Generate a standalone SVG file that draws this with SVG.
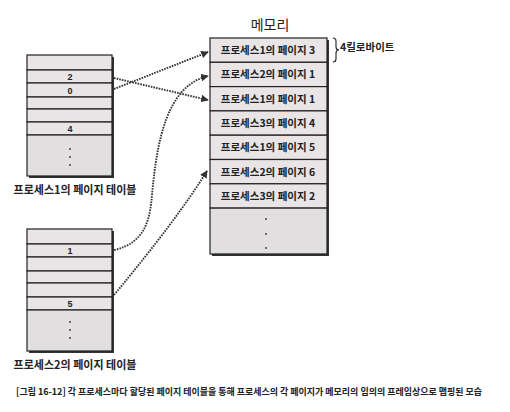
<svg xmlns="http://www.w3.org/2000/svg" width="510" height="412" viewBox="0 0 510 412">
<defs>
<style>
.t{font-family:"Noto Sans CJK KR","Noto Sans",sans-serif;fill:#222}
.n{font-family:"Liberation Sans",Arial,sans-serif;font-weight:bold;fill:#222;font-size:9px}
.b{font-weight:bold}
.row{fill:#e9e4e6;stroke:#222;stroke-width:1.2}
.dots{fill:#e2dfe1;stroke:#222;stroke-width:1.2}
.sh{fill:#333}
.con{fill:none;stroke:#333;stroke-width:1.9;stroke-dasharray:1.6 1.1}
.dot{fill:#333}
</style>
<marker id="ah" viewBox="0 0 10 10" refX="9" refY="5" markerWidth="4" markerHeight="4" orient="auto" markerUnits="strokeWidth">
<path d="M0,0 L10,5 L0,10 z" fill="#333"/>
</marker>
</defs>
<rect width="510" height="412" fill="#fff"/>

<g id="pt1">
<rect class="sh" x="29" y="57" width="85" height="121"/>
<rect class="row" x="27" y="55" width="85" height="15"/>
<rect class="row" x="27" y="70" width="85" height="13"/>
<rect class="row" x="27" y="83" width="85" height="14"/>
<rect class="row" x="27" y="97" width="85" height="12"/>
<rect class="row" x="27" y="109" width="85" height="13"/>
<rect class="row" x="27" y="122" width="85" height="13"/>
<rect class="dots" x="27" y="135" width="85" height="41"/>
<text class="n" x="70" y="80" text-anchor="middle">2</text>
<text class="n" x="70" y="93.5" text-anchor="middle">0</text>
<text class="n" x="70" y="131.5" text-anchor="middle">4</text>
<circle class="dot" cx="70" cy="149" r="0.9"/>
<circle class="dot" cx="70" cy="157" r="0.9"/>
<circle class="dot" cx="70" cy="165" r="0.9"/>
<text class="t b" x="75" y="194" font-size="11" text-anchor="middle">프로세스1의 페이지 테이블</text>
</g>

<g id="pt2">
<rect class="sh" x="29" y="231" width="85" height="122"/>
<rect class="row" x="27" y="229" width="85" height="15"/>
<rect class="row" x="27" y="244" width="85" height="13"/>
<rect class="row" x="27" y="257" width="85" height="14"/>
<rect class="row" x="27" y="271" width="85" height="12"/>
<rect class="row" x="27" y="283" width="85" height="14"/>
<rect class="row" x="27" y="297" width="85" height="13"/>
<rect class="dots" x="27" y="310" width="85" height="41"/>
<text class="n" x="70" y="254" text-anchor="middle">1</text>
<text class="n" x="70" y="307" text-anchor="middle">5</text>
<circle class="dot" cx="70" cy="322" r="0.9"/>
<circle class="dot" cx="70" cy="330" r="0.9"/>
<circle class="dot" cx="70" cy="338" r="0.9"/>
<text class="t b" x="75" y="369" font-size="11" text-anchor="middle">프로세스2의 페이지 테이블</text>
</g>

<g id="memory">
<text class="t" x="270" y="30" font-size="14" text-anchor="middle">메모리</text>
<rect class="sh" x="212" y="40" width="117" height="216"/>
<rect class="row" x="210" y="38" width="117" height="24.3"/>
<rect class="row" x="210" y="62.3" width="117" height="24.3"/>
<rect class="row" x="210" y="86.6" width="117" height="24.3"/>
<rect class="row" x="210" y="110.9" width="117" height="24.3"/>
<rect class="row" x="210" y="135.2" width="117" height="24.3"/>
<rect class="row" x="210" y="159.5" width="117" height="24.3"/>
<rect class="row" x="210" y="183.8" width="117" height="24.3"/>
<rect class="dots" x="210" y="208.1" width="117" height="45.9"/>
<g font-size="10.5" text-anchor="middle">
<text class="t b" x="268" y="54">프로세스1의 페이지 3</text>
<text class="t b" x="268" y="78.3">프로세스2의 페이지 1</text>
<text class="t b" x="268" y="102.6">프로세스1의 페이지 1</text>
<text class="t b" x="268" y="126.9">프로세스3의 페이지 4</text>
<text class="t b" x="268" y="151.2">프로세스1의 페이지 5</text>
<text class="t b" x="268" y="175.5">프로세스2의 페이지 6</text>
<text class="t b" x="268" y="199.8">프로세스3의 페이지 2</text>
</g>
<circle class="dot" cx="266" cy="219" r="0.9"/>
<circle class="dot" cx="266" cy="234" r="0.9"/>
<circle class="dot" cx="266" cy="248" r="0.9"/>
</g>

<g id="size">
<path d="M333,38 Q336,38 336,41 L336,47 Q336,50 339,50 Q336,50 336,53 L336,59 Q336,62 333,62" fill="none" stroke="#222" stroke-width="1.1"/>
<text class="t b" x="340" y="51" font-size="10.5">4킬로바이트</text>
</g>

<g id="connectors">
<path class="con" d="M114,78 L208,100" marker-end="url(#ah)"/>
<path class="con" d="M114,89 L208,52" marker-end="url(#ah)"/>
<path class="con" d="M114,250 C146,243 150,218 152,195 C157,140 167,86 208,76" marker-end="url(#ah)"/>
<path class="con" d="M114,295 Q178,218 207,171" marker-end="url(#ah)"/>
</g>

<text class="t b" x="249" y="395" font-size="9.5" text-anchor="middle" textLength="466" lengthAdjust="spacingAndGlyphs">[그림 16-12] 각 프로세스마다 할당된 페이지 테이블을 통해 프로세스의 각 페이지가 메모리의 임의의 프레임상으로 맵핑된 모습</text>
</svg>
